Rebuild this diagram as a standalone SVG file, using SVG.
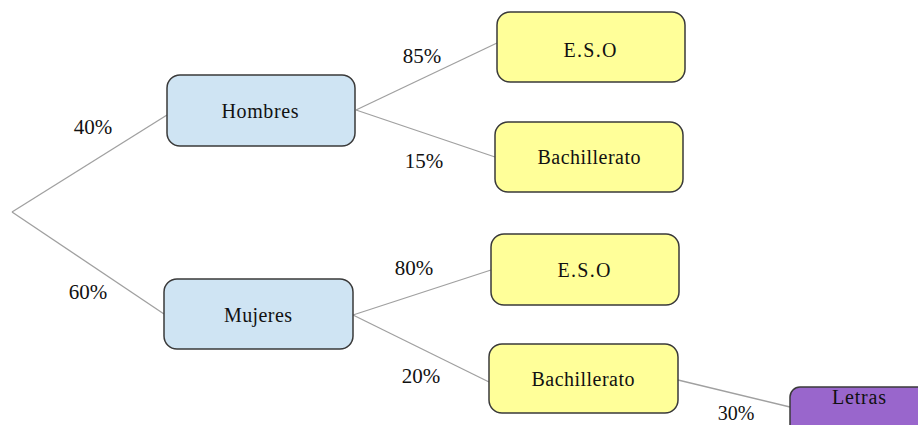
<svg xmlns="http://www.w3.org/2000/svg" width="918" height="425" viewBox="0 0 918 425">
<style>
.box{stroke:#3a3a3a;stroke-width:1.5}
.blue{fill:#cfe4f3}
.yellow{fill:#ffff99}
.purple{fill:#9966cc}
.lbl{font-family:"Liberation Serif","Times New Roman",serif;font-size:20px;fill:#111;text-anchor:middle}
.pct{font-family:"Liberation Serif","Times New Roman",serif;font-size:21px;fill:#111;text-anchor:middle}
.conn line{stroke:#a0a0a0;stroke-width:1.3}
</style>
<rect width="918" height="425" fill="#ffffff"/>
<g id="connectors" class="conn">
<line x1="12" y1="212" x2="167" y2="115"/>
<line x1="12" y1="212" x2="164" y2="314"/>
<line x1="356" y1="110" x2="497" y2="43"/>
<line x1="356" y1="110" x2="495" y2="157"/>
<line x1="353" y1="315" x2="491" y2="270"/>
<line x1="353" y1="315" x2="489" y2="382"/>
<line x1="678" y1="380" x2="790" y2="407"/>
</g>
<g id="labels">
<text class="pct" x="93" y="134">40%</text>
<text class="pct" x="88" y="299">60%</text>
<text class="pct" x="422" y="63">85%</text>
<text class="pct" x="424" y="168">15%</text>
<text class="pct" x="414" y="275">80%</text>
<text class="pct" x="421" y="383">20%</text>
<text class="pct" x="736" y="420" style="font-size:20px">30%</text>
</g>
<g id="hombres">
<rect class="box blue" x="167" y="75" width="188" height="71" rx="13"/>
<text class="lbl" x="260" y="118" textLength="77" lengthAdjust="spacing">Hombres</text>
</g>
<g id="mujeres">
<rect class="box blue" x="164" y="279" width="189" height="70" rx="13"/>
<text class="lbl" x="258" y="322" textLength="68" lengthAdjust="spacing">Mujeres</text>
</g>
<g id="eso-h">
<rect class="box yellow" x="497" y="12" width="188" height="70" rx="13"/>
<text class="lbl" x="590" y="57" textLength="53" lengthAdjust="spacing">E.S.O</text>
</g>
<g id="bach-h">
<rect class="box yellow" x="495" y="122" width="188" height="70" rx="13"/>
<text class="lbl" x="589" y="164" textLength="103" lengthAdjust="spacing">Bachillerato</text>
</g>
<g id="eso-m">
<rect class="box yellow" x="491" y="234" width="188" height="71" rx="13"/>
<text class="lbl" x="584" y="277" textLength="53" lengthAdjust="spacing">E.S.O</text>
</g>
<g id="bach-m">
<rect class="box yellow" x="489" y="344" width="189" height="69" rx="13"/>
<text class="lbl" x="583" y="386" textLength="103" lengthAdjust="spacing">Bachillerato</text>
</g>
<g id="letras">
<rect class="box purple" x="790" y="387" width="140" height="50" rx="10"/>
<text class="lbl" x="859" y="404" textLength="54" lengthAdjust="spacing">Letras</text>
</g>
</svg>
